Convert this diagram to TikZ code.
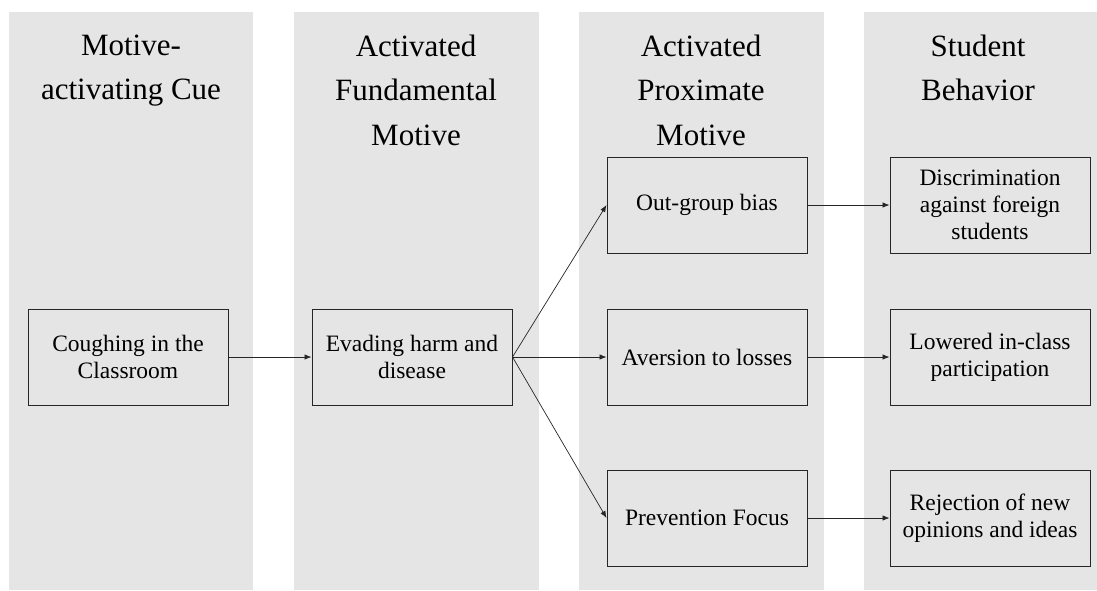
\documentclass[tikz,border=0pt]{standalone}
\usepackage{fontspec}
\setmainfont{Liberation Serif}
\usetikzlibrary{arrows.meta}
\begin{document}
\begin{tikzpicture}[x=1pt,y=-1pt,
  col/.style={fill=black!10,draw=none},
  box/.style={draw=black!85,line width=1pt,fill=black!10,minimum width=200pt,minimum height=96pt,align=center,font=\fontsize{23.5}{27}\selectfont,inner sep=2pt},
  head/.style={align=center,font=\fontsize{31}{44.5}\selectfont,anchor=north},
  arr/.style={-{Latex[length=7pt,width=5.5pt]},line width=0.7pt,black!85}]
\useasboundingbox (0,0) rectangle (1097,590);
\fill[white] (0,0) rectangle (1097,590);
\fill[col] (9,12) rectangle (253,590);
\fill[col] (294,12) rectangle (539,590);
\fill[col] (579,12) rectangle (824,590);
\fill[col] (864,12) rectangle (1097,590);
\node[head] (h1) at (131,31) {Motive-\\activating Cue};
\node[head] (h2) at (416,31) {Activated\\Fundamental\\Motive};
\node[head] (h3) at (701,31) {Activated\\Proximate\\Motive};
\node[head] (h4) at (978,31) {Student\\Behavior};
\node[box] (c) at (128,357) {Coughing in the\\Classroom};
\node[box] (e) at (412,357) {Evading harm and\\disease};
\node[box] (o) at (707,205) {Out-group bias};
\node[box] (a) at (707,357) {Aversion to losses};
\node[box] (p) at (707,518) {Prevention Focus};
\node[box] (d) at (990,205) {Discrimination\\against foreign\\students};
\node[box] (l) at (990,357) {Lowered in-class\\participation};
\node[box] (r) at (990,518) {Rejection of new\\opinions and ideas};
\draw[arr] (c) -- (e);
\draw[arr] (e.east) -- (o.west);
\draw[arr] (e.east) -- (a.west);
\draw[arr] (e.east) -- (p.west);
\draw[arr] (o) -- (d);
\draw[arr] (a) -- (l);
\draw[arr] (p) -- (r);
\end{tikzpicture}
\end{document}
